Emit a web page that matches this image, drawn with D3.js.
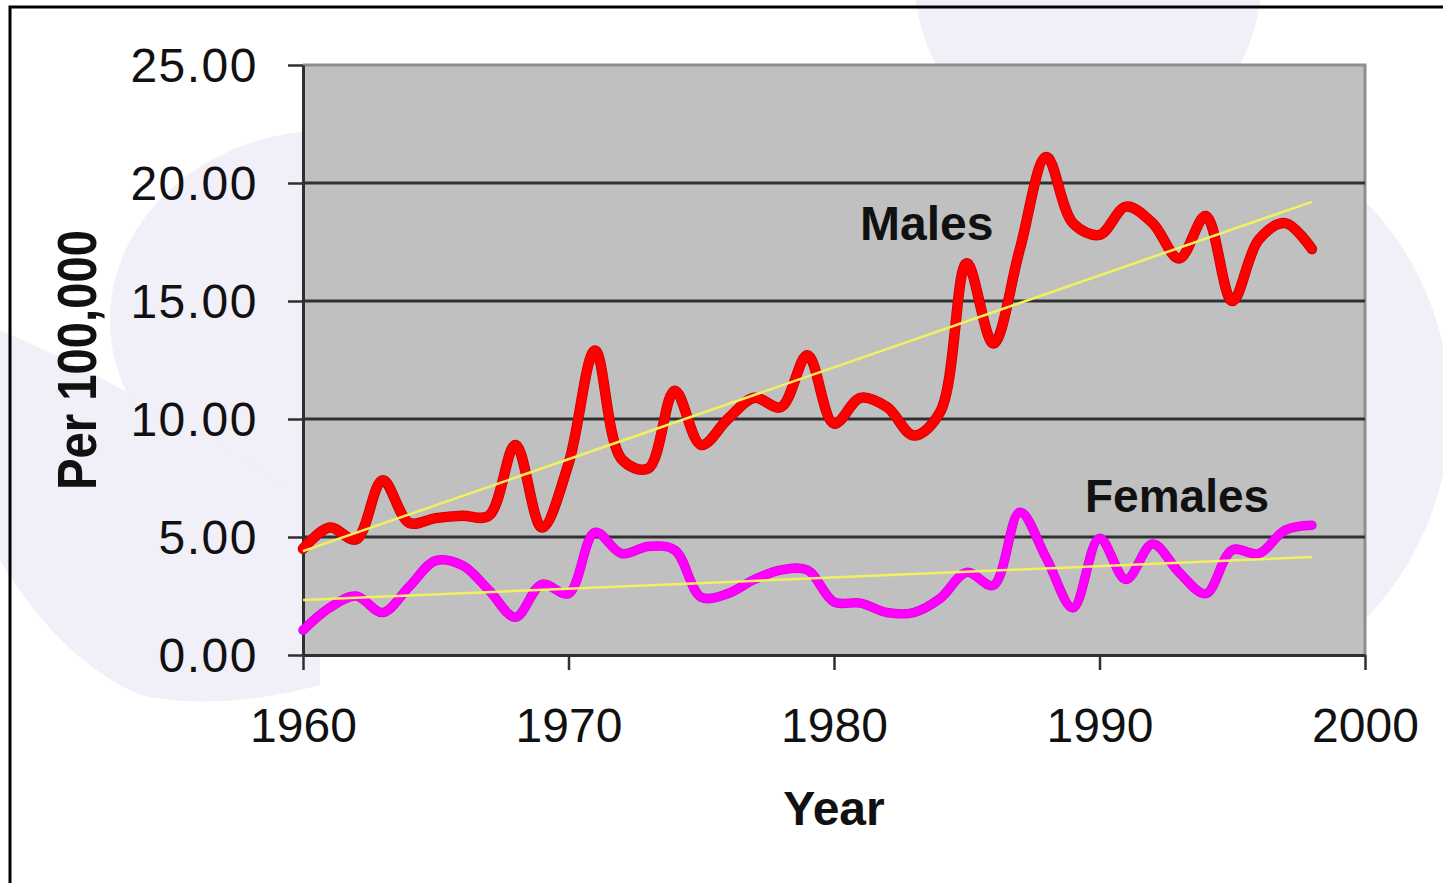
<!DOCTYPE html>
<html>
<head>
<meta charset="utf-8">
<script src="https://cdn.jsdelivr.net/npm/d3@7"></script>
<style>
  body { margin: 0; background: #fff; }
  svg { display: block; }
</style>
</head>
<body>
<script>
// values (per 100,000)
var years = [1960,1961,1962,1963,1964,1965,1966,1967,1968,1969,
             1970,1971,1972,1973,1974,1975,1976,1977,1978,1979,
             1980,1981,1982,1983,1984,1985,1986,1987,1988,1989,
             1990,1991,1992,1993,1994,1995,1996,1997,1998];
var males = [4.5,5.4,4.9,7.4,5.6,5.8,5.9,5.9,8.9,5.4,
             8.1,12.9,8.3,7.9,11.2,8.9,10.0,10.9,10.5,12.7,
             9.8,10.9,10.5,9.3,10.3,16.6,13.2,17.2,21.1,18.3,
             17.8,19.0,18.3,16.8,18.6,15.0,17.6,18.3,17.2];
var females = [1.05,2.0,2.5,1.8,2.9,4.0,3.8,2.75,1.6,3.0,
               2.6,5.2,4.3,4.6,4.45,2.45,2.6,3.2,3.6,3.6,
               2.25,2.2,1.8,1.8,2.4,3.5,2.95,6.05,4.1,2.0,
               4.95,3.2,4.7,3.5,2.6,4.45,4.3,5.3,5.5];
// linear trend ends (1960, 1998)
var trendYears = [1960, 1998];
var maleTrend = [4.4, 19.2];
var femaleTrend = [2.33, 4.15];

var yTicks = [0, 5, 10, 15, 20, 25];
var xTicks = [1960, 1970, 1980, 1990, 2000];

var W = 1443, H = 883;
var margin = {top: 65, left: 303, right: 78, bottom: 228};
var width = W - margin.left - margin.right,
    height = H - margin.top - margin.bottom;

var svg = d3.select("body").append("svg")
    .attr("width", W)
    .attr("height", H);

// faint background shapes
svg.append("clipPath").attr("id", "rightclip")
  .append("rect").attr("x", 1366).attr("y", 0).attr("width", 80).attr("height", 650);
var bg = svg.append("g").attr("fill", "#f1eff7");
bg.append("circle").attr("cx", 1088).attr("cy", -18).attr("r", 173);
bg.append("circle").attr("cx", 1150).attr("cy", 410).attr("r", 300)
    .attr("clip-path", "url(#rightclip)");
bg.append("ellipse").attr("cx", 330).attr("cy", 320).attr("rx", 220).attr("ry", 190);
bg.append("path")
    .attr("d", "M0,330 Q150,395 320,510 L320,685 Q220,712 140,695 Q60,660 0,560 Z");

// outer frame
svg.append("path")
    .attr("d", "M10,883 L10,7 L1443,7")
    .attr("fill", "none")
    .attr("stroke", "#000")
    .attr("stroke-width", 3);

var g = svg.append("g")
    .attr("transform", "translate(" + margin.left + "," + margin.top + ")");

var x = d3.scaleLinear().domain([1960, 2000]).range([0, width]);
var y = d3.scaleLinear().domain([0, 25]).range([height, 0]);

// plot area
g.append("rect")
    .attr("width", width)
    .attr("height", height)
    .attr("fill", "#c0c0c0");

// top and right border
g.append("path")
    .attr("d", "M0," + y(25) + "H" + width + "V" + height)
    .attr("fill", "none")
    .attr("stroke", "#8e8e8e")
    .attr("stroke-width", 3);

// gridlines
g.append("g").selectAll("line")
    .data(yTicks.filter(function(d) { return d > 0 && d < 25; }))
  .enter().append("line")
    .attr("x1", 0)
    .attr("x2", width)
    .attr("y1", function(d) { return y(d); })
    .attr("y2", function(d) { return y(d); })
    .attr("stroke", "#303030")
    .attr("stroke-width", 3);

var fontTick = "'Liberation Sans', Arial, sans-serif";

// axes
var yAxis = g.append("g")
    .call(d3.axisLeft(y).tickValues(yTicks).tickFormat(d3.format(".2f"))
      .tickSize(15).tickSizeOuter(0).tickPadding(30));
var xAxis = g.append("g")
    .attr("transform", "translate(0," + height + ")")
    .call(d3.axisBottom(x).tickValues(xTicks).tickFormat(d3.format("d"))
      .tickSize(15).tickSizeOuter(0).tickPadding(38));

[yAxis, xAxis].forEach(function(a) {
  a.select(".domain").attr("stroke", "#303030").attr("stroke-width", 3);
  a.selectAll(".tick line").attr("stroke", "#303030").attr("stroke-width", 2.5);
  a.selectAll("text")
      .attr("fill", "#111")
      .style("font-family", fontTick)
      .style("font-size", "48px");
});
yAxis.selectAll("text").attr("dy", "0.34em").style("letter-spacing", "1.5px");

// data lines
var line = d3.line()
    .x(function(d, i) { return x(years[i]); })
    .y(function(d) { return y(d); })
    .curve(d3.curveCatmullRom.alpha(0.5));

function drawSeries(values, edge, color, w) {
  g.append("path").datum(values)
      .attr("d", line)
      .attr("fill", "none")
      .attr("stroke", edge)
      .attr("stroke-width", w + 1.5)
      .attr("stroke-linejoin", "round")
      .attr("stroke-linecap", "round");
  g.append("path").datum(values)
      .attr("d", line)
      .attr("fill", "none")
      .attr("stroke", color)
      .attr("stroke-width", w)
      .attr("stroke-linejoin", "round")
      .attr("stroke-linecap", "round");
}
drawSeries(males, "#c40000", "#ff0000", 9);
drawSeries(females, "#d800d8", "#ff00ff", 8);

// trend lines
var trend = d3.line()
    .x(function(d, i) { return x(trendYears[i]); })
    .y(function(d) { return y(d); });
[maleTrend, femaleTrend].forEach(function(t) {
  g.append("path").datum(t)
      .attr("d", trend)
      .attr("fill", "none")
      .attr("stroke", "#f0f060")
      .attr("stroke-width", 2.5);
});

// series labels
g.append("text")
    .attr("x", 860 - margin.left)
    .attr("y", 240 - margin.top)
    .style("font-family", fontTick)
    .style("font-weight", "bold")
    .style("font-size", "48px")
    .attr("fill", "#111")
    .text("Males");
g.append("text")
    .attr("x", 1085 - margin.left)
    .attr("y", 512 - margin.top)
    .style("font-family", fontTick)
    .style("font-weight", "bold")
    .style("font-size", "46px")
    .attr("fill", "#111")
    .text("Females");

// axis titles
svg.append("text")
    .attr("x", 834)
    .attr("y", 825)
    .attr("text-anchor", "middle")
    .style("font-family", fontTick)
    .style("font-weight", "bold")
    .style("font-size", "48px")
    .attr("fill", "#111")
    .text("Year");
svg.append("text")
    .attr("transform", "translate(96,360) rotate(-90)")
    .attr("text-anchor", "middle")
    .attr("textLength", 260)
    .attr("lengthAdjust", "spacingAndGlyphs")
    .style("font-family", fontTick)
    .style("font-weight", "bold")
    .style("font-size", "56px")
    .attr("fill", "#111")
    .text("Per 100,000");
</script>
</body>
</html>
